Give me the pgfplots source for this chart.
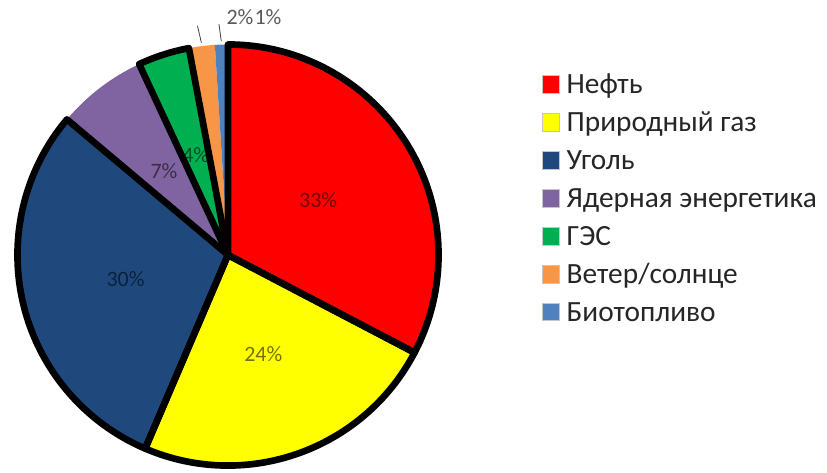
\documentclass[border=0pt]{standalone}
\usepackage{fontspec}
\setmainfont{Carlito}
\usepackage{pgfplots}
\usepackage{pgfplotstable}
\pgfplotsset{compat=1.18}

\definecolor{oil}{RGB}{255,0,0}
\definecolor{gas}{RGB}{255,255,0}
\definecolor{coal}{RGB}{31,73,125}
\definecolor{nuclear}{RGB}{128,100,162}
\definecolor{hydro}{RGB}{0,176,80}
\definecolor{windsun}{RGB}{247,150,70}
\definecolor{biofuel}{RGB}{79,129,189}

% share (%), fill colour, thick outline, label outside, outside label position (px)
\pgfplotstableread{
val col     bord out lx  ly
33  oil     1    0   0   0
24  gas     1    0   0   0
30  coal    1    0   0   0
7   nuclear 0    0   0   0
4   hydro   1    0   0   0
2   windsun 0    1   240 455
1   biofuel 0    1   268 455
}\energy

\def\R{157.9pt}     % pie radius
\def\Rin{79pt}      % radius of the inside labels

\begin{document}
\begin{tikzpicture}
\begin{axis}[
    x=0.75pt, y=0.75pt,
    xmin=0, xmax=827, ymin=0, ymax=472,
    enlargelimits=false,
    hide axis, clip=false,
    legend style={at={(axis cs:542,406.5)}, anchor=north west,
      draw=none, fill=none, inner sep=0pt, outer sep=0pt,
      column sep=5pt, row sep=0pt,
      font=\fontsize{22}{26}\selectfont, text=black!85,
      cells={anchor=west},
      nodes={inner sep=0pt, text height=21.18pt, text depth=7.28pt}},
    legend image code/.code={
      \draw[#1, draw=gray!45, line width=0.5pt] (0pt,-6.5pt) rectangle (13pt,6.5pt);},
  ]
  \addlegendimage{fill=oil}\addlegendentry{Нефть}
  \addlegendimage{fill=gas}\addlegendentry{Природный газ}
  \addlegendimage{fill=coal}\addlegendentry{Уголь}
  \addlegendimage{fill=nuclear}\addlegendentry{Ядерная энергетика}
  \addlegendimage{fill=hydro}\addlegendentry{ГЭС}
  \addlegendimage{fill=windsun}\addlegendentry{Ветер/солнце}
  \addlegendimage{fill=biofuel}\addlegendentry{Биотопливо}

  \pgfplotsextra{%
    \pgfplotstablegetrowsof{\energy}%
    \pgfmathtruncatemacro\lastrow{\pgfplotsretval-1}%
    \def\total{0}%
    \pgfplotsforeachungrouped \i in {0,...,\lastrow}{%
      \pgfplotstablegetelem{\i}{val}\of\energy
      \pgfmathsetmacro\total{\total+\pgfplotsretval}}%
    % slices run clockwise from 12 o'clock
    \def\acc{90}%
    \pgfplotsforeachungrouped \i in {0,...,\lastrow}{%
      \pgfplotstablegetelem{\i}{val}\of\energy
      \pgfmathsetmacro\aend{\acc-\pgfplotsretval/\total*360}%
      \expandafter\edef\csname pie@s\i\endcsname{\acc}%
      \expandafter\edef\csname pie@e\i\endcsname{\aend}%
      \let\acc\aend}%
    % fills
    \foreach \i in {0,...,\lastrow}{%
      \pgfplotstablegetelem{\i}{col}\of\energy \edef\c{\pgfplotsretval}%
      \edef\s{\csname pie@s\i\endcsname}\edef\e{\csname pie@e\i\endcsname}%
      \fill[fill=\c] (axis cs:228,217) -- ++(\s:\R)
        arc[start angle=\s, end angle=\e, radius=\R] -- cycle;}%
    % labels
    \foreach \i in {0,...,\lastrow}{%
      \pgfplotstablegetelem{\i}{val}\of\energy \edef\v{\pgfplotsretval}%
      \pgfplotstablegetelem{\i}{col}\of\energy \edef\c{\pgfplotsretval}%
      \pgfplotstablegetelem{\i}{out}\of\energy \edef\o{\pgfplotsretval}%
      \pgfmathsetmacro\m{(\csname pie@s\i\endcsname+\csname pie@e\i\endcsname)/2}%
      \ifnum\o=0
        \path (axis cs:228,217) ++(\m:\Rin)
          node[text=\c!45!black, font=\fontsize{16.5}{19}\selectfont] {\v\%};
      \else
        \pgfplotstablegetelem{\i}{lx}\of\energy \edef\lx{\pgfplotsretval}%
        \pgfplotstablegetelem{\i}{ly}\of\energy \edef\ly{\pgfplotsretval}%
        \draw[black!75, line width=0.6pt] (axis cs:228,217) ++(\m:160.5pt) -- ++(\m+6:13pt);
        \node[text=black!65, font=\fontsize{16.5}{19}\selectfont] at (axis cs:\lx,\ly) {\v\%};
      \fi}%
    % thick outlines
    \foreach \i in {0,...,\lastrow}{%
      \pgfplotstablegetelem{\i}{bord}\of\energy \edef\b{\pgfplotsretval}%
      \edef\s{\csname pie@s\i\endcsname}\edef\e{\csname pie@e\i\endcsname}%
      \ifnum\b=1
        \draw[black, line width=5pt, line join=round] (axis cs:228,217) -- ++(\s:\R)
          arc[start angle=\s, end angle=\e, radius=\R] -- cycle;
      \fi}%
  }
\end{axis}
\pgfresetboundingbox
\useasboundingbox (0,0) rectangle (620.25pt,354pt);
\end{tikzpicture}
\end{document}
